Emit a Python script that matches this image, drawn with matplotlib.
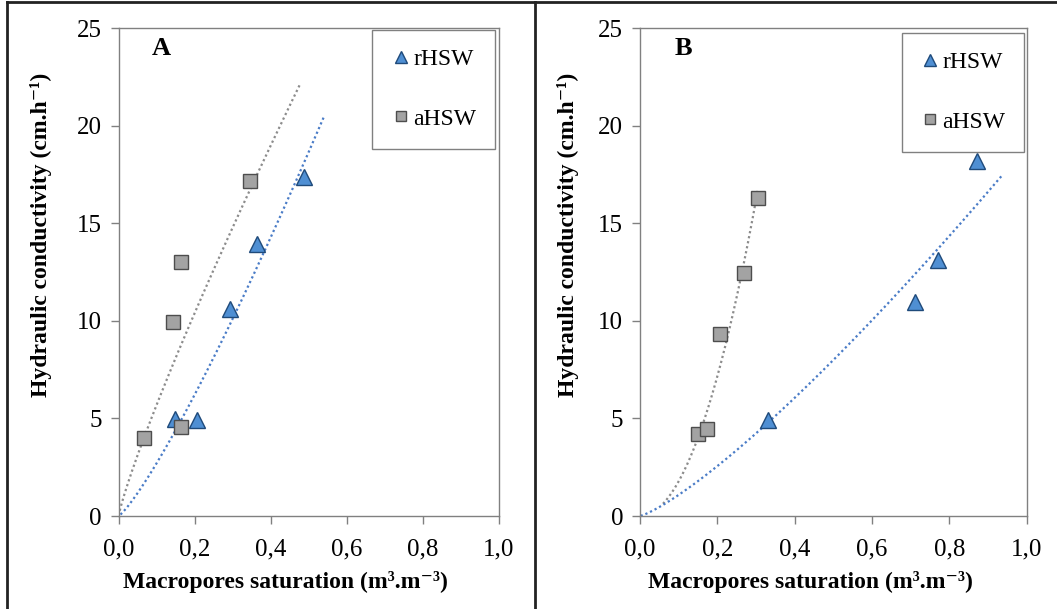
import numpy as np
import matplotlib
matplotlib.use("Agg")
import matplotlib.pyplot as plt
from matplotlib.lines import Line2D
from matplotlib.ticker import FuncFormatter

plt.rcParams["font.family"] = ["Liberation Serif", "DejaVu Serif"]

# panel A data
a_rhsw_x = [0.148, 0.207, 0.292, 0.364, 0.487]
a_rhsw_y = [4.97, 4.93, 10.6, 13.96, 17.38]
a_ahsw_x = [0.068, 0.143, 0.163, 0.165, 0.345]
a_ahsw_y = [3.98, 9.94, 13.03, 4.57, 17.14]

# panel B data
b_rhsw_x = [0.331, 0.711, 0.770, 0.870]
b_rhsw_y = [4.93, 10.96, 13.13, 18.2]
b_ahsw_x = [0.150, 0.174, 0.207, 0.268, 0.305]
b_ahsw_y = [4.18, 4.47, 9.31, 12.47, 16.31]

# x range drawn for each power trendline
a_rhsw_trend = [0.005, 0.54]
a_ahsw_trend = [0.003, 0.478]
b_rhsw_trend = [0.002, 0.935]
b_ahsw_trend = [0.06, 0.305]

panel_letters = ["A", "B"]
xticks = [0.0, 0.2, 0.4, 0.6, 0.8, 1.0]
yticks = [0, 5, 10, 15, 20, 25]

BLUE_FILL = "#4f8fd3"
BLUE_EDGE = "#1f4a7a"
BLUE_LINE = "#4a7cc7"
GREY_FILL = "#a3a3a3"
GREY_EDGE = "#4d4d4d"
GREY_LINE = "#8c8c8c"
AX_COL = "#808080"


def power_trend(ax, x, y, rng, color):
    """Excel style power trendline y = a*x^b"""
    b, ln_a = np.polyfit(np.log(x), np.log(y), 1)
    xs = np.linspace(rng[0], rng[1], 200)
    ax.plot(xs, np.exp(ln_a) * xs ** b, linestyle=(0, (1, 1.3)),
            color=color, linewidth=1.6, zorder=2)


def draw_panel(ax, rx, ry, gx, gy, rtrend, gtrend, letter, ylab_x, leg_box):
    power_trend(ax, gx, gy, gtrend, GREY_LINE)
    power_trend(ax, rx, ry, rtrend, BLUE_LINE)

    ax.plot(rx, ry, linestyle="none", marker="^", markersize=11,
            markerfacecolor=BLUE_FILL, markeredgecolor=BLUE_EDGE,
            markeredgewidth=1.0, label="rHSW", zorder=3)
    ax.plot(gx, gy, linestyle="none", marker="s", markersize=10,
            markerfacecolor=GREY_FILL, markeredgecolor=GREY_EDGE,
            markeredgewidth=1.0, label="aHSW", zorder=3)

    ax.set_xlim(0, 1.0)
    ax.set_ylim(0, 25)
    ax.set_xticks(xticks)
    ax.set_yticks(yticks)
    ax.xaxis.set_major_formatter(FuncFormatter(lambda v, p: f"{v:.1f}".replace(".", ",")))
    ax.tick_params(axis="both", direction="out", length=6, width=1,
                   color=AX_COL, labelsize=18)
    ax.tick_params(axis="x", pad=10)
    ax.tick_params(axis="y", pad=6)
    for s in ax.spines.values():
        s.set_color(AX_COL)
        s.set_linewidth(1.0)

    ax.set_xlabel("Macropores saturation (m³.m⁻³)", fontsize=17, fontweight="bold")
    ax.set_ylabel("Hydraulic conductivity (cm.h⁻¹)", fontsize=17, fontweight="bold")
    ax.xaxis.set_label_coords(0.44, -0.113)
    ax.yaxis.set_label_coords(ylab_x, 0.577)

    ax.text(0.112, 0.957, letter, transform=ax.transAxes, fontsize=19,
            fontweight="bold", ha="center", va="center")

    leg = ax.legend(loc="upper right", bbox_to_anchor=leg_box,
                    fontsize=17, frameon=True, fancybox=False, framealpha=1,
                    edgecolor=AX_COL, labelspacing=1.6, borderpad=0.8,
                    handlelength=0.8, handletextpad=0.12, borderaxespad=0.0,
                    markerscale=0.75)
    leg.get_frame().set_linewidth(1.0)


fig = plt.figure(figsize=(10.57, 6.09), dpi=100)
ax_a = fig.add_axes([0.1122, 0.1527, 0.3596, 0.8013])
ax_b = fig.add_axes([0.6053, 0.1527, 0.3662, 0.8013])

draw_panel(ax_a, a_rhsw_x, a_rhsw_y, a_ahsw_x, a_ahsw_y,
           a_rhsw_trend, a_ahsw_trend, panel_letters[0], -0.175, (0.99, 0.996))
draw_panel(ax_b, b_rhsw_x, b_rhsw_y, b_ahsw_x, b_ahsw_y,
           b_rhsw_trend, b_ahsw_trend, panel_letters[1], -0.157, (0.993, 0.99))

# outer frame and divider
frame_kw = dict(color="#222222", linewidth=2.0, transform=fig.transFigure)
fig.add_artist(Line2D([7 / 1057, 7 / 1057], [0, 1 - 2 / 609], **frame_kw))
fig.add_artist(Line2D([7 / 1057, 1], [1 - 2 / 609, 1 - 2 / 609], **frame_kw))
fig.add_artist(Line2D([535 / 1057, 535 / 1057], [0, 1 - 2 / 609], **frame_kw))

fig.savefig("out.png", dpi=100)
